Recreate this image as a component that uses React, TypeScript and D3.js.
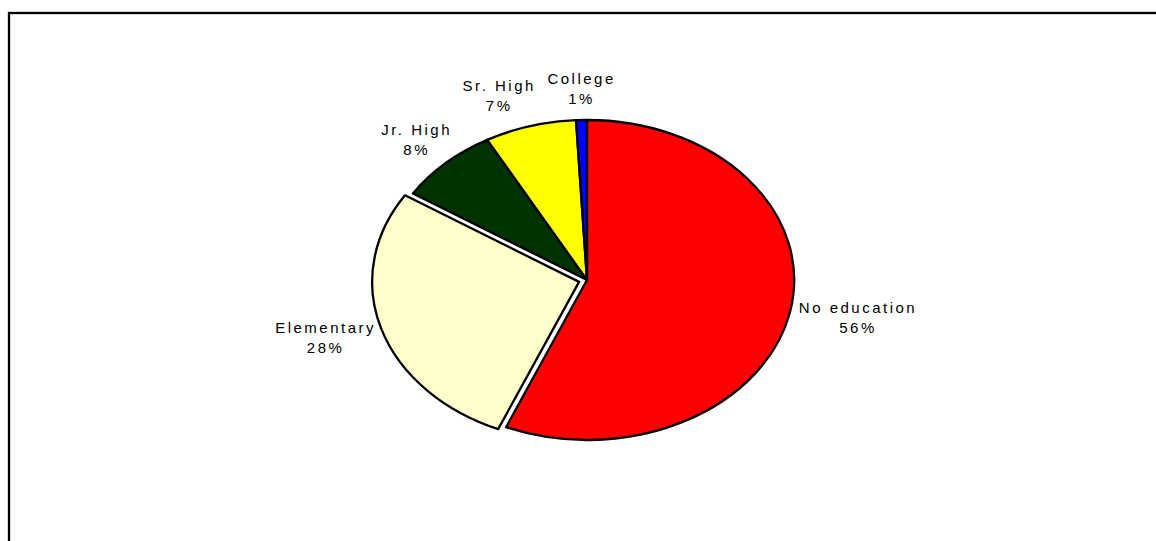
import React, { useEffect, useRef } from 'react';
import * as d3 from 'd3';

const categories = ['No education', 'Elementary', 'Jr. High', 'Sr. High', 'College'];
const shares = [56.4, 27.7, 7.9, 7.15, 0.85];
const percentLabels = ['56%', '28%', '8%', '7%', '1%'];
const sliceColors = ['#FF0000', '#FFFFCC', '#003300', '#FFFF00', '#0000FF'];
const explodedSlices = ['Elementary'];

const W = 1156;
const H = 541;
const CX = 587;
const CY = 280;
const RX = 207;
const RY = 160;
const EXPLODE = 0.04;
const KX = 1.05;
const KY = 1.09;
const LINE_GAP = 20;
const FONT = '"Liberation Sans", Arial, sans-serif';
const FS = 15;
const LS = 2.5;

export default function App() {
  const ref = useRef<SVGSVGElement>(null);

  useEffect(() => {
    const svg = d3.select(ref.current);
    svg.selectAll('*').remove();

    svg
      .append('rect')
      .attr('x', 9)
      .attr('y', 13)
      .attr('width', W + 40)
      .attr('height', H + 40)
      .attr('fill', '#fff')
      .attr('stroke', '#000')
      .attr('stroke-width', 2.3);

    const pie = d3.pie<number>().sort(null).value((d) => d);
    const arcs = pie(shares);
    const arc = d3.arc<d3.PieArcDatum<number>>().innerRadius(0).outerRadius(1);

    const slices = arcs.map((a, i) => {
      const mid = (a.startAngle + a.endAngle) / 2;
      const ex = explodedSlices.includes(categories[i]) ? EXPLODE : 0;
      const ox = Math.sin(mid) * ex * RX;
      const oy = -Math.cos(mid) * ex * RY;
      return { a, i, mid, ox, oy };
    });

    const pieG = svg.append('g');
    pieG
      .selectAll('g.slice')
      .data(slices)
      .join('g')
      .attr('class', 'slice')
      .attr('transform', (d) => `translate(${CX + d.ox},${CY + d.oy}) scale(${RX},${RY})`)
      .append('path')
      .attr('d', (d) => arc(d.a) as string)
      .attr('fill', (d) => sliceColors[d.i])
      .attr('stroke', '#000')
      .attr('stroke-width', 2.3)
      .attr('stroke-linejoin', 'round')
      .attr('vector-effect', 'non-scaling-stroke');

    const labelG = svg.append('g');
    const mk = (g: any, txt: string) =>
      g
        .append('text')
        .attr('text-anchor', 'middle')
        .attr('font-family', FONT)
        .attr('font-size', FS)
        .attr('letter-spacing', LS)
        .attr('dx', LS / 2)
        .attr('fill', '#000')
        .text(txt);

    const labels = slices.map((s) => {
      const g = labelG.append('g');
      const t1 = mk(g, categories[s.i]);
      const t2 = mk(g, percentLabels[s.i]);
      const w =
        Math.max(
          (t1.node() as SVGTextElement).getComputedTextLength(),
          (t2.node() as SVGTextElement).getComputedTextLength()
        ) - LS;
      const h = 34;
      const sn = Math.sin(s.mid);
      const cs = -Math.cos(s.mid);
      const ax = CX + s.ox + sn * RX * KX;
      const ay = CY + s.oy + cs * RY * KY;
      const x = ax + (sn * w) / 2;
      const y = ay + (cs * h) / 2;
      return { g, t1, t2, x, y, w, h, sn };
    });

    const pad = 14;
    for (let i = 0; i < labels.length; i++) {
      for (let j = i + 1; j < labels.length; j++) {
        const A = labels[i];
        const B = labels[j];
        const overlapX = (A.w + B.w) / 2 + pad - Math.abs(A.x - B.x);
        const overlapY = (A.h + B.h) / 2 - Math.abs(A.y - B.y);
        if (overlapX > 0 && overlapY > 0) {
          const mover = Math.abs(A.sn) > Math.abs(B.sn) ? A : B;
          const other = mover === A ? B : A;
          mover.x += mover.x < other.x ? -overlapX : overlapX;
        }
      }
    }

    labels.forEach((L) => {
      L.t1.attr('x', L.x).attr('y', L.y - 5);
      L.t2.attr('x', L.x).attr('y', L.y - 5 + LINE_GAP);
    });
  }, []);

  return (
    <svg
      ref={ref}
      width={W}
      height={H}
      style={{ position: 'absolute', left: 0, top: 0, background: '#fff' }}
    />
  );
}
